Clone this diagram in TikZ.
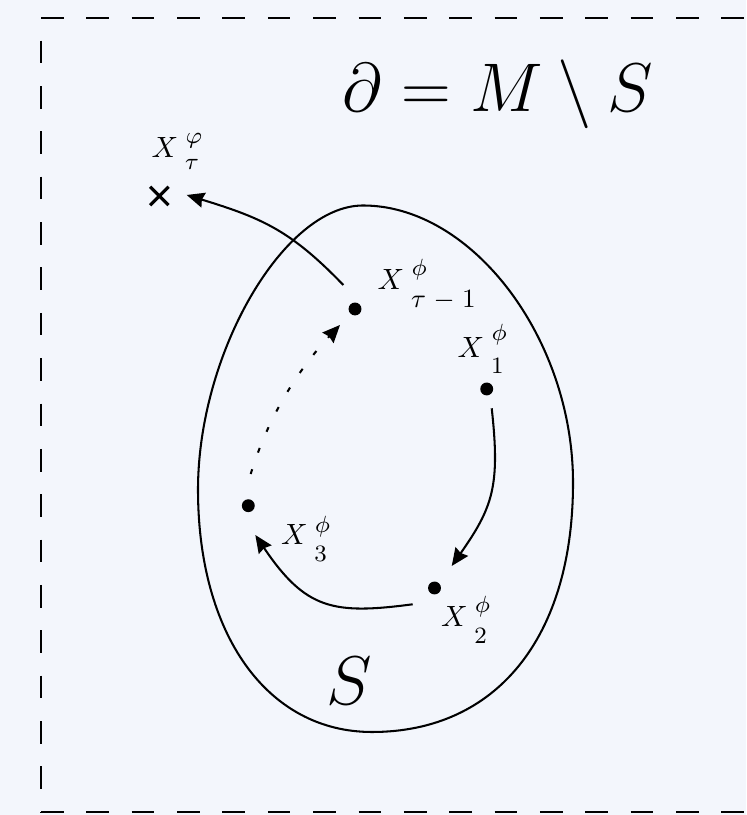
\documentclass[tikz,border=0pt]{standalone}
\usepackage{graphicx}
\usetikzlibrary{arrows.meta,shapes.misc}
\definecolor{bg}{RGB}{243,246,252}
% X with superscript #1 and subscript #2; #3 raise of sup, #4 drop of sub
\newcommand{\Xl}[4]{$X$\kern2.3pt\rlap{\kern0.3pt\raisebox{#3}{\footnotesize$#1$}}\raisebox{-#4}{#2}}
\newcommand{\sbs}[1]{\footnotesize$#1$}
\newcommand{\bigtxt}[1]{\scalebox{0.945}{\Huge$#1$}}
\begin{document}
\begin{tikzpicture}[x=0.3413pt,y=0.3413pt,
  line width=0.7pt,
  dotpt/.style={circle,fill=black,inner sep=0pt,minimum size=4.4pt},
  crossmark/.style={cross out,draw=black,line width=1.1pt,inner sep=0pt,minimum size=5.2pt},
  lab/.style={anchor=base west,inner sep=0pt},
  big/.style={inner sep=0pt},
  arr/.style={-{Stealth[length=6pt,width=5.2pt,inset=0.6pt]}},
  border/.style={line width=0.75pt,dash pattern=on 7.74pt off 7.74pt},
  dotline/.style={dash pattern=on 1.7pt off 6pt}]
\fill[bg] (0,0) rectangle (746,815);
\clip (0,0) rectangle (746,815);
% dashed frame
\draw[border] (41,797) -- (820,797);
\draw[border] (41,3) -- (820,3);
\draw[border,dash phase=7.74pt] (41,797) -- (41,3);
% the set S
\draw[line join=round] (363,609.5) .. controls (472.2,609.5) and (573,476.4) .. (573,332.3)
 .. controls (573,177.7) and (496.6,83) .. (372,83)
 .. controls (267.6,83) and (198,180) .. (198,325.4)
 .. controls (198,461.8) and (283.8,609.5) .. (363,609.5);
% points
\node[dotpt] (tm) at (355,506) {};
\node[dotpt] (x1) at (486.7,426) {};
\node[dotpt] (x2) at (434.5,227) {};
\node[dotpt] (x3) at (248.3,309.3) {};
\node[crossmark] (xt) at (159.3,619) {};
% labels
\node[lab] (lt) at (150.7,657.5) {\Xl{\varphi}{\sbs{\tau}}{4.8pt}{4.0pt}};
\node[lab] (ltm) at (376.7,525.7) {\Xl{\phi}{\small$\tau\mskip5mu{-}\mskip5mu1$}{4.8pt}{6.3pt}};
\node[lab] (l1) at (456.7,457.7) {\Xl{\phi}{\sbs{1}}{5.6pt}{5.7pt}};
\node[lab] (l2) at (440,188.3) {\Xl{\phi}{\sbs{2}}{4.8pt}{5.9pt}};
\node[lab] (l3) at (280,270) {\Xl{\phi}{\sbs{3}}{4.4pt}{5.7pt}};
\node[big,anchor=base] (bd) at (498,703.3) {\bigtxt{\partial = M \setminus S}};
\node[big,anchor=base] (sl) at (349,110) {\bigtxt{S}};
% arrows
\draw[arr] ([shift={(-11.7,24)}]tm.center) .. controls +(134:75) and +(-17:80) .. ([shift={(27.4,1)}]xt.center);
\draw[arr] ([shift={(5,-19.3)}]x1.center) .. controls +(-83.7:78) and +(55:72) .. ([shift={(17.2,22)}]x2.center);
\draw[arr] ([shift={(-21.8,-16.3)}]x2.center) .. controls +(187.5:80) and +(-56:90) .. ([shift={(7,-29.3)}]x3.center);
\draw[arr,dotline] ([shift={(2.4,31.7)}]x3.center) .. controls +(73:70) and +(226.8:50) .. ([shift={(-15,-16)}]tm.center);
\end{tikzpicture}
\end{document}
